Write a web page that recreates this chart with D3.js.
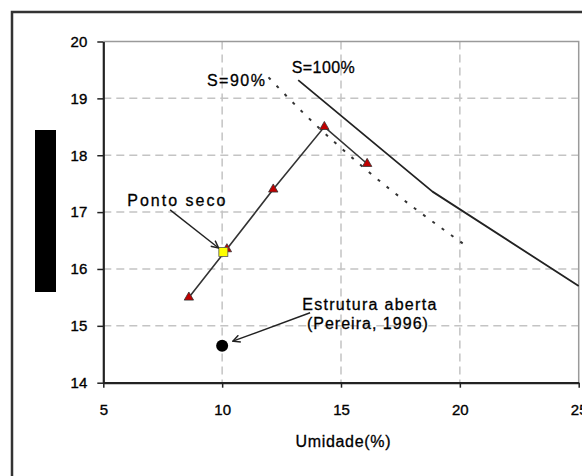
<!DOCTYPE html>
<html>
<head>
<meta charset="utf-8">
<script src="https://cdn.jsdelivr.net/npm/d3@7"></script>
<style>
  body { margin: 0; background: #fff; }
  text { font-family: "Liberation Sans", Arial, sans-serif; fill: #000; }
</style>
</head>
<body>
<div id="chart"></div>
<script>
// curva de compactacao (triangulos)
const umidade = [8.6, 10.2, 12.15, 14.3, 16.1];
const densidade = [15.5, 16.35, 17.4, 18.5, 17.85];
// ponto seco (quadrado amarelo)
const pontoSeco = [10.05, 16.3];
// estrutura aberta (Pereira, 1996)
const pereira = [10, 14.65];
// curvas de saturacao
const s100Umidade = [13.2, 18.85, 25];
const s100Densidade = [19.32, 17.36, 15.7];
const s90Umidade = [11.95, 13.4, 16.1, 20.15];
const s90Densidade = [19.37, 18.75, 17.73, 16.44];
// eixos
const xTicks = [5, 10, 15, 20, 25];
const yTicks = [14, 15, 16, 17, 18, 19, 20];

// set the dimensions and margins of the graph
const W = 582, H = 476;
const margin = { top: 41.5, right: 3.3, bottom: 93.3, left: 103.3 };
const width = W - margin.left - margin.right;
const height = H - margin.top - margin.bottom;

const root = d3.select('#chart').append('svg')
  .attr('width', W)
  .attr('height', H);

// moldura externa (cortada pela imagem)
root.append('rect')
  .attr('x', 12).attr('y', 12)
  .attr('width', 620).attr('height', 520)
  .attr('fill', 'none')
  .attr('stroke', '#333')
  .attr('stroke-width', 2.5);

// rotulo do eixo y coberto
root.append('rect')
  .attr('x', 35).attr('y', 130)
  .attr('width', 21).attr('height', 162)
  .attr('fill', '#000');

const svg = root.append('g')
  .attr('transform', `translate(${margin.left}, ${margin.top})`);

const x = d3.scaleLinear().domain([5, 25]).range([0, width]);
const y = d3.scaleLinear().domain([14, 20]).range([height, 0]);

// grid
svg.append('g')
  .selectAll('line')
  .data(xTicks.slice(1, -1))
  .join('line')
  .attr('x1', (d) => x(d)).attr('x2', (d) => x(d))
  .attr('y1', 0).attr('y2', height)
  .attr('stroke', '#c4c4c4')
  .attr('stroke-width', 1.5)
  .attr('stroke-dasharray', '8,5');

svg.append('g')
  .selectAll('line')
  .data(yTicks.slice(1, -1))
  .join('line')
  .attr('x1', 0).attr('x2', width)
  .attr('y1', (d) => y(d)).attr('y2', (d) => y(d))
  .attr('stroke', '#c4c4c4')
  .attr('stroke-width', 1.5)
  .attr('stroke-dasharray', '8,5');

// borda superior e direita
svg.append('path')
  .attr('d', `M0,${y(20)}H${x(25)}V${y(14)}`)
  .attr('fill', 'none')
  .attr('stroke', '#9a9a9a')
  .attr('stroke-width', 1.5);

// add X axis and Y axis
const xAxis = svg.append('g')
  .attr('transform', `translate(0, ${height})`)
  .call(d3.axisBottom(x).tickValues(xTicks).tickFormat(d3.format('d'))
    .tickSize(5).tickSizeOuter(0).tickPadding(17));
const yAxis = svg.append('g')
  .call(d3.axisLeft(y).tickValues(yTicks).tickFormat(d3.format('d'))
    .tickSize(6).tickSizeOuter(0).tickPadding(10));

[xAxis, yAxis].forEach((a) => {
  a.select('.domain').attr('stroke', '#222').attr('stroke-width', 2.2);
  a.selectAll('.tick line').attr('stroke', '#222').attr('stroke-width', 1.5);
  a.selectAll('.tick text')
    .attr('font-size', 15)
    .attr('font-family', '"Liberation Sans", Arial, sans-serif')
    .attr('fill', '#000')
    .attr('stroke', '#000')
    .attr('stroke-width', 0.35);
});

xAxis.append('text')
  .attr('x', (x(15) + 2))
  .attr('y', 64)
  .attr('text-anchor', 'middle')
  .attr('font-size', 16)
  .attr('textLength', 95)
  .attr('lengthAdjust', 'spacing')
  .attr('fill', '#000')
  .attr('stroke', '#000')
  .attr('stroke-width', 0.3)
  .text('Umidade(%)');

// curvas de saturacao
const s100 = s100Umidade.map((u, i) => [u, s100Densidade[i]]);
const s90 = s90Umidade.map((u, i) => [u, s90Densidade[i]]);

svg.append('path')
  .attr('d', d3.line().x((d) => x(d[0])).y((d) => y(d[1])).curve(d3.curveLinear)(s100))
  .attr('fill', 'none')
  .attr('stroke', '#222')
  .attr('stroke-width', 1.8)
  .attr('stroke-linejoin', 'round');

svg.append('path')
  .attr('d', d3.line().x((d) => x(d[0])).y((d) => y(d[1])).curve(d3.curveMonotoneX)(s90))
  .attr('fill', 'none')
  .attr('stroke', '#333')
  .attr('stroke-width', 2)
  .attr('stroke-dasharray', '3,8.5');

// curva de compactacao
const pontos = umidade.map((u, i) => [u, densidade[i]]);
svg.append('path')
  .attr('d', d3.line().x((d) => x(d[0])).y((d) => y(d[1]))(pontos))
  .attr('fill', 'none')
  .attr('stroke', '#333')
  .attr('stroke-width', 1.6);

svg.selectAll('.tri')
  .data(pontos)
  .join('path')
  .attr('class', 'tri')
  .attr('transform', (d) => `translate(${x(d[0])}, ${y(d[1])})`)
  .attr('d', d3.symbol(d3.symbolTriangle).size(38))
  .attr('fill', '#c00000')
  .attr('stroke', '#333')
  .attr('stroke-width', 0.8);

// ponto seco
svg.append('rect')
  .attr('x', x(pontoSeco[0]) - 4.5)
  .attr('y', y(pontoSeco[1]) - 4.5)
  .attr('width', 9).attr('height', 9)
  .attr('fill', '#ffff00')
  .attr('stroke', '#555')
  .attr('stroke-width', 0.8);

// estrutura aberta
svg.append('circle')
  .attr('cx', x(pereira[0]))
  .attr('cy', y(pereira[1]))
  .attr('r', 6)
  .attr('fill', '#000');

// setas
root.append('defs').append('marker')
  .attr('id', 'seta')
  .attr('viewBox', '0 0 10 10')
  .attr('refX', 9).attr('refY', 5)
  .attr('markerWidth', 9).attr('markerHeight', 9)
  .attr('markerUnits', 'userSpaceOnUse')
  .attr('orient', 'auto')
  .append('path')
  .attr('d', 'M1,1L9,5L1,9')
  .attr('fill', 'none')
  .attr('stroke', '#222')
  .attr('stroke-width', 1.6);

const setas = [
  [[7.81, 17.04], [9.85, 16.37]],
  [[13.7, 15.23], [10.45, 14.73]],
];
svg.selectAll('.seta')
  .data(setas)
  .join('line')
  .attr('class', 'seta')
  .attr('x1', (d) => x(d[0][0])).attr('y1', (d) => y(d[0][1]))
  .attr('x2', (d) => x(d[1][0])).attr('y2', (d) => y(d[1][1]))
  .attr('stroke', '#222')
  .attr('stroke-width', 1.4)
  .attr('marker-end', 'url(#seta)');

// rotulos
const rotulos = [
  { t: 'S=90%', u: 11.8, d: 19.22, anchor: 'end', len: 58 },
  { t: 'S=100%', u: 12.93, d: 19.45, anchor: 'start', len: 63 },
  { t: 'Ponto seco', u: 6.01, d: 17.1, anchor: 'start', len: 98 },
  { t: 'Estrutura aberta', u: 16.19, d: 15.28, anchor: 'middle', len: 134 },
  { t: '(Pereira, 1996)', u: 16.11, d: 14.95, anchor: 'middle', len: 121 },
];
svg.selectAll('.rotulo')
  .data(rotulos)
  .join('text')
  .attr('class', 'rotulo')
  .attr('x', (d) => x(d.u))
  .attr('y', (d) => y(d.d))
  .attr('text-anchor', (d) => d.anchor)
  .attr('font-size', 16)
  .attr('textLength', (d) => d.len)
  .attr('lengthAdjust', 'spacing')
  .attr('stroke', '#000')
  .attr('stroke-width', 0.3)
  .text((d) => d.t);
</script>
</body>
</html>
